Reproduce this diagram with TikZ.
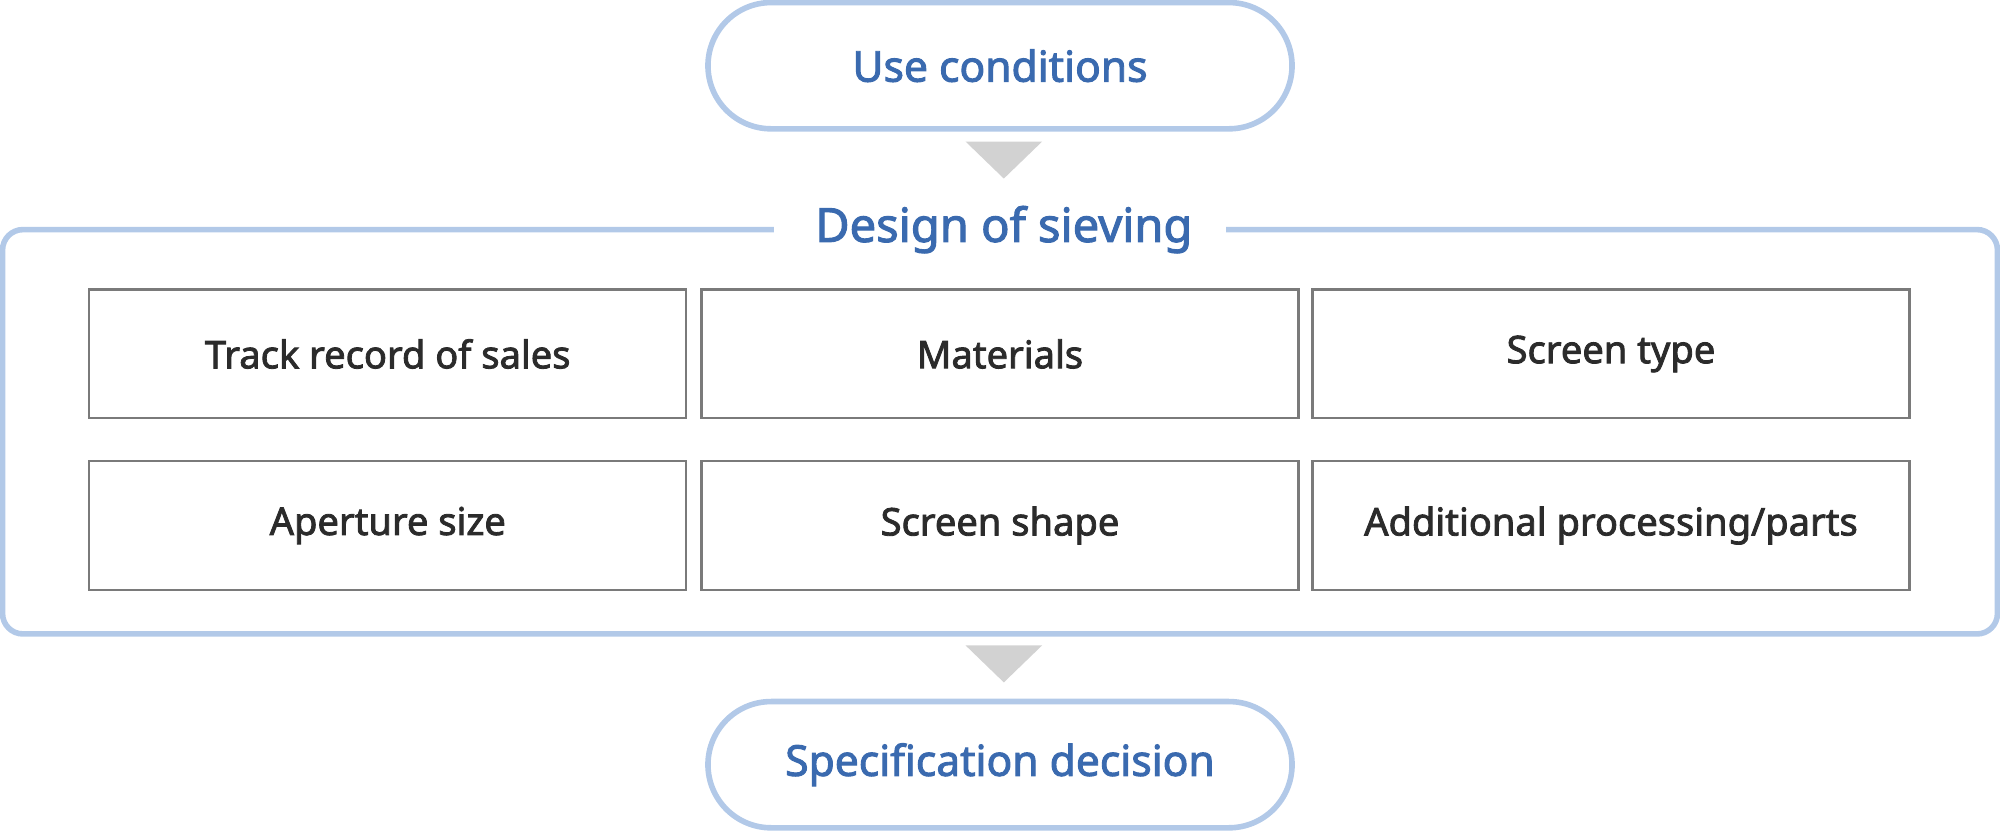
\documentclass[tikz,border=0pt]{standalone}
\usepackage{fontspec}
\setmainfont{Noto Sans}[AutoFakeBold=2.2]
\definecolor{textblue}{HTML}{3A6AAF}
\definecolor{lineblue}{HTML}{B2C9E8}
\definecolor{arrowgray}{HTML}{D2D2D2}
\definecolor{cellgray}{HTML}{7A7A7A}
\definecolor{textdark}{HTML}{2B2B2B}
\tikzset{
  pill/.style={draw=lineblue, line width=2.5pt, rounded corners=0.99cm, fill=white,
    minimum width=9.16cm, minimum height=1.98cm, text=textblue, font=\bfseries\fontsize{19}{22}\selectfont},
  cell/.style={draw=cellgray, line width=1pt, minimum width=9.36cm, minimum height=2.02cm,
    text=textdark, font=\bfseries\fontsize{17}{20}\selectfont},
  down/.style={fill=arrowgray},
}
\begin{document}
\begin{tikzpicture}[x=0.02cm, y=-0.02cm]
  \useasboundingbox (0,0) rectangle (1568,652);
  % outer frame
  \draw[lineblue, line width=2.5pt, rounded corners=0.32cm] (2,180) rectangle (1566,497);
  \fill[white] (607,170) rectangle (961,190);
  \node[text=textblue, font=\bfseries\fontsize{21}{24}\selectfont] (design) at (787,180) {Design of sieving};
  % start and end
  \node[pill] (use) at (784,51.5) {Use conditions};
  \node[pill] (spec) at (784,599.5) {Specification decision};
  % arrows
  \coordinate (a1) at (787,111);
  \coordinate (a2) at (787,506);
  \fill[down] (a1) ++(-30,0) -- ++(60,0) -- ++(-30,29) -- cycle;
  \fill[down] (a2) ++(-30,0) -- ++(60,0) -- ++(-30,29) -- cycle;
  % cells
  \node[cell] (sales) at (304,277.5) {Track record of sales};
  \node[cell] (mat)   at (784,277.5) {Materials};
  \node[cell] (type)  at (1263,277.5) {Screen type};
  \node[cell] (aper)  at (304,412) {Aperture size};
  \node[cell] (shape) at (784,412) {Screen shape};
  \node[cell] (add)   at (1263,412) {Additional processing/parts};
\end{tikzpicture}
\end{document}
